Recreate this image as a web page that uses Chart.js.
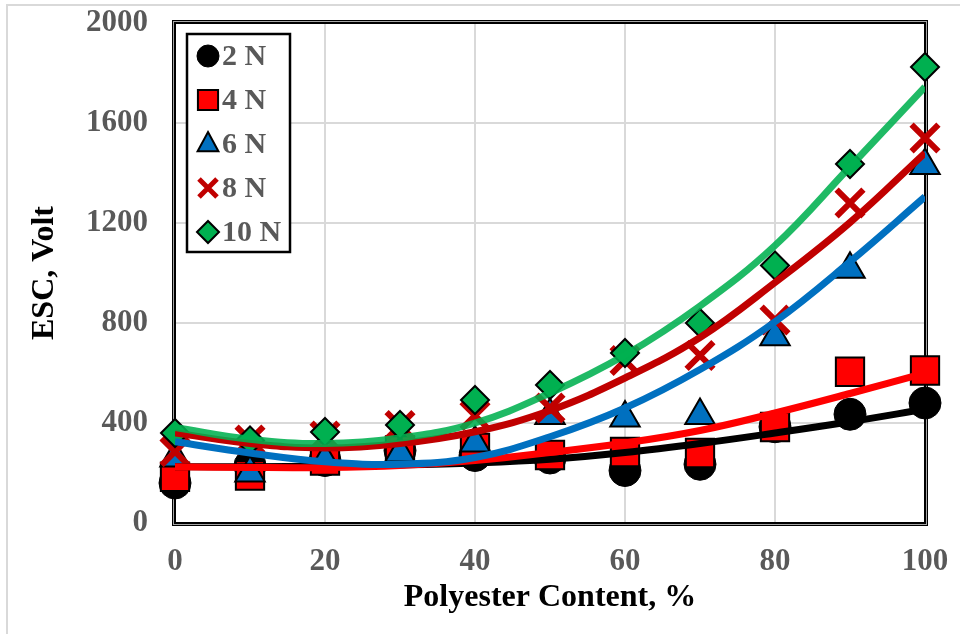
<!DOCTYPE html>
<html lang="en">
<head>
    <meta charset="UTF-8">
    <title>ESC vs Polyester Content</title>
    <script src="https://cdn.jsdelivr.net/npm/chart.js"></script>
    <style>
        html, body { margin: 0; padding: 0; background: #fff; }
        #wrap { width: 960px; height: 634px; position: relative; }
    </style>
</head>
<body>
<div id="wrap"><canvas id="esc-chart" width="960" height="634"></canvas></div>

<script>
    // polyester content, %
    const content = [0, 10, 20, 30, 40, 50, 60, 70, 80, 90, 100];

    // measured ESC (Volt) per load
    const esc2N  = [160, 230, 250, 290, 270, 260, 210, 235, 385, 435, 480];
    const esc4N  = [185, 190, 250, 290, 300, 272, 284, 280, 384, 605, 610];
    const esc6N  = [260, 200, 250, 280, 320, 430, 420, 430, 745, 1015, 1430];
    const esc8N  = [285, 332, 348, 390, 430, 460, 650, 670, 812, 1280, 1540];
    const esc10N = [360, 330, 364, 392, 492, 552, 680, 800, 1030, 1436, 1824];

    // trend curves
    const trend2N  = [225, 225, 228, 232, 240, 255, 282, 318, 360, 405, 455];
    const trend4N  = [225, 222, 222, 230, 250, 282, 320, 370, 440, 518, 600];
    const trend6N  = [325, 280, 245, 235, 262, 345, 460, 614, 805, 1045, 1305];
    const trend8N  = [360, 318, 300, 318, 365, 450, 580, 742, 962, 1202, 1480];
    const trend10N = [382, 335, 318, 340, 400, 520, 672, 868, 1110, 1425, 1744];

    const seriesNames = ['2 N', '4 N', '6 N', '8 N', '10 N'];
    const yTicks = [0, 400, 800, 1200, 1600, 2000];
    const xTicks = [0, 20, 40, 60, 80, 100];

    const toPoints = (ys) => ys.map((y, i) => ({ x: content[i], y: y }));

    const serif = "'Liberation Serif', 'Times New Roman', serif";
    const tickGray = '#595959';

    const markers = [
        { data: esc2N,  style: 'circle',   radius: 16, bg: '#000000', border: '#000000', bw: 1, lr: 11 },
        { data: esc4N,  style: 'rect',     radius: 20, bg: '#ff0000', border: '#000000', bw: 2, lr: 14 },
        { data: esc6N,  style: 'triangle', radius: 17, bg: '#0070c0', border: '#000000', bw: 2, lr: 12 },
        { data: esc8N,  style: 'crossRot', radius: 19, bg: '#c00000', border: '#c00000', bw: 6, lr: 12 },
        { data: esc10N, style: 'rectRot',  radius: 14, bg: '#00b050', border: '#000000', bw: 2, lr: 11 }
    ];
    const trends = [
        { data: trend2N,  color: '#000000' },
        { data: trend4N,  color: '#ff0000' },
        { data: trend6N,  color: '#0070c0' },
        { data: trend8N,  color: '#c00000' },
        { data: trend10N, color: 'rgba(0,176,80,0.88)' }
    ];

    const datasets = [];
    markers.forEach((m, i) => {
        datasets.push({
            label: seriesNames[i],
            data: toPoints(m.data),
            pointStyle: m.style,
            pointRadius: m.radius,
            pointBackgroundColor: m.bg,
            pointBorderColor: m.border,
            pointBorderWidth: m.bw,
            showLine: false,
            clip: false,
            order: 9 - i
        });
    });
    trends.forEach((t, i) => {
        datasets.push({
            label: seriesNames[i] + ' trend',
            data: toPoints(t.data),
            showLine: true,
            borderColor: t.color,
            borderWidth: 7,
            pointRadius: 0,
            tension: 0.4,
            borderCapStyle: 'butt',
            order: 4 - i
        });
    });

    // no automatic label padding, the plot box is fixed
    const noPad = (s) => {
        s.paddingTop = 0; s.paddingBottom = 0;
        s.paddingLeft = 0; s.paddingRight = 0;
    };

    // grey outline of the whole picture, black frame and legend box inside the plot
    const framePlugin = {
        id: 'frame',
        beforeDraw(chart) {
            const ctx = chart.ctx;
            ctx.save();
            ctx.strokeStyle = '#d9d9d9';
            ctx.lineWidth = 2;
            ctx.beginPath();
            ctx.moveTo(7, 634);
            ctx.lineTo(7, 5);
            ctx.lineTo(960, 5);
            ctx.stroke();
            ctx.restore();
        },
        beforeDatasetsDraw(chart) {
            const a = chart.chartArea;
            const ctx = chart.ctx;
            ctx.save();
            ctx.strokeStyle = '#000';
            ctx.lineWidth = 4;
            ctx.strokeRect(a.left - 1, a.top - 1, a.right - a.left + 2, a.bottom - a.top + 2);
            ctx.strokeStyle = '#a6a6a6';
            ctx.lineWidth = 1;
            ctx.strokeRect(a.left - 1.5, a.top - 1.5, a.right - a.left + 3, a.bottom - a.top + 3);
            ctx.restore();
        },
        afterDraw(chart) {
            const ctx = chart.ctx;
            ctx.save();
            ctx.fillStyle = '#fff';
            ctx.fillRect(187, 34, 103, 218);
            ctx.strokeStyle = '#000';
            ctx.lineWidth = 2.5;
            ctx.strokeRect(187, 34, 103, 218);
            markers.forEach((m, i) => {
                const x = 208, y = 56 + i * 44;
                const r = m.lr;
                ctx.fillStyle = m.bg;
                ctx.strokeStyle = m.border;
                ctx.lineWidth = m.bw;
                ctx.beginPath();
                if (m.style === 'circle') {
                    ctx.arc(x, y, r, 0, Math.PI * 2);
                    ctx.fill(); ctx.stroke();
                } else if (m.style === 'rect') {
                    ctx.rect(x - r * 0.72, y - r * 0.72, r * 1.44, r * 1.44);
                    ctx.fill(); ctx.stroke();
                } else if (m.style === 'triangle') {
                    ctx.moveTo(x, y - r);
                    ctx.lineTo(x + r * 0.866, y + r * 0.6);
                    ctx.lineTo(x - r * 0.866, y + r * 0.6);
                    ctx.closePath();
                    ctx.fill(); ctx.stroke();
                } else if (m.style === 'crossRot') {
                    const o = r * 0.75;
                    ctx.lineWidth = 5;
                    ctx.moveTo(x - o, y - o); ctx.lineTo(x + o, y + o);
                    ctx.moveTo(x + o, y - o); ctx.lineTo(x - o, y + o);
                    ctx.stroke();
                } else {
                    ctx.moveTo(x - r, y);
                    ctx.lineTo(x, y - r);
                    ctx.lineTo(x + r, y);
                    ctx.lineTo(x, y + r);
                    ctx.closePath();
                    ctx.fill(); ctx.stroke();
                }
                ctx.fillStyle = tickGray;
                ctx.font = 'bold 30px ' + serif;
                ctx.textAlign = 'left';
                ctx.textBaseline = 'middle';
                ctx.fillText(seriesNames[i], 222, y + 1);
            });
            ctx.restore();
        }
    };

    new Chart(document.getElementById('esc-chart'), {
        type: 'scatter',
        data: { datasets: datasets },
        options: {
            responsive: false,
            animation: false,
            events: [],
            layout: { padding: { top: 23, right: 35, left: 0, bottom: 0 }, autoPadding: false },
            plugins: {
                legend: { display: false },
                tooltip: { enabled: false }
            },
            scales: {
                x: {
                    type: 'linear',
                    min: 0,
                    max: 100,
                    afterBuildTicks: (s) => { s.ticks = xTicks.map(v => ({ value: v })); },
                    afterFit: (s) => { s.height = 111; noPad(s); },
                    border: { display: false },
                    grid: { color: '#d9d9d9', lineWidth: 2, drawTicks: false },
                    ticks: {
                        color: tickGray,
                        padding: 20,
                        maxRotation: 0,
                        callback: (v) => String(v),
                        font: { family: serif, size: 31, weight: 'bold' }
                    },
                    title: {
                        display: true,
                        text: 'Polyester Content, %',
                        color: '#000',
                        padding: { top: 0, bottom: 17 },
                        font: { family: serif, size: 32, weight: 'bold' }
                    }
                },
                y: {
                    type: 'linear',
                    min: 0,
                    max: 2000,
                    afterBuildTicks: (s) => { s.ticks = yTicks.map(v => ({ value: v })); },
                    afterFit: (s) => { s.width = 175; noPad(s); },
                    border: { display: false },
                    grid: { color: '#d9d9d9', lineWidth: 2, drawTicks: false },
                    ticks: {
                        color: tickGray,
                        padding: 27,
                        callback: (v) => String(v),
                        font: { family: serif, size: 31, weight: 'bold' }
                    },
                    title: {
                        display: true,
                        text: 'ESC, Volt',
                        color: '#000',
                        padding: { top: 26, bottom: 0 },
                        font: { family: serif, size: 32, weight: 'bold' }
                    }
                }
            }
        },
        plugins: [framePlugin]
    });
</script>
</body>
</html>
